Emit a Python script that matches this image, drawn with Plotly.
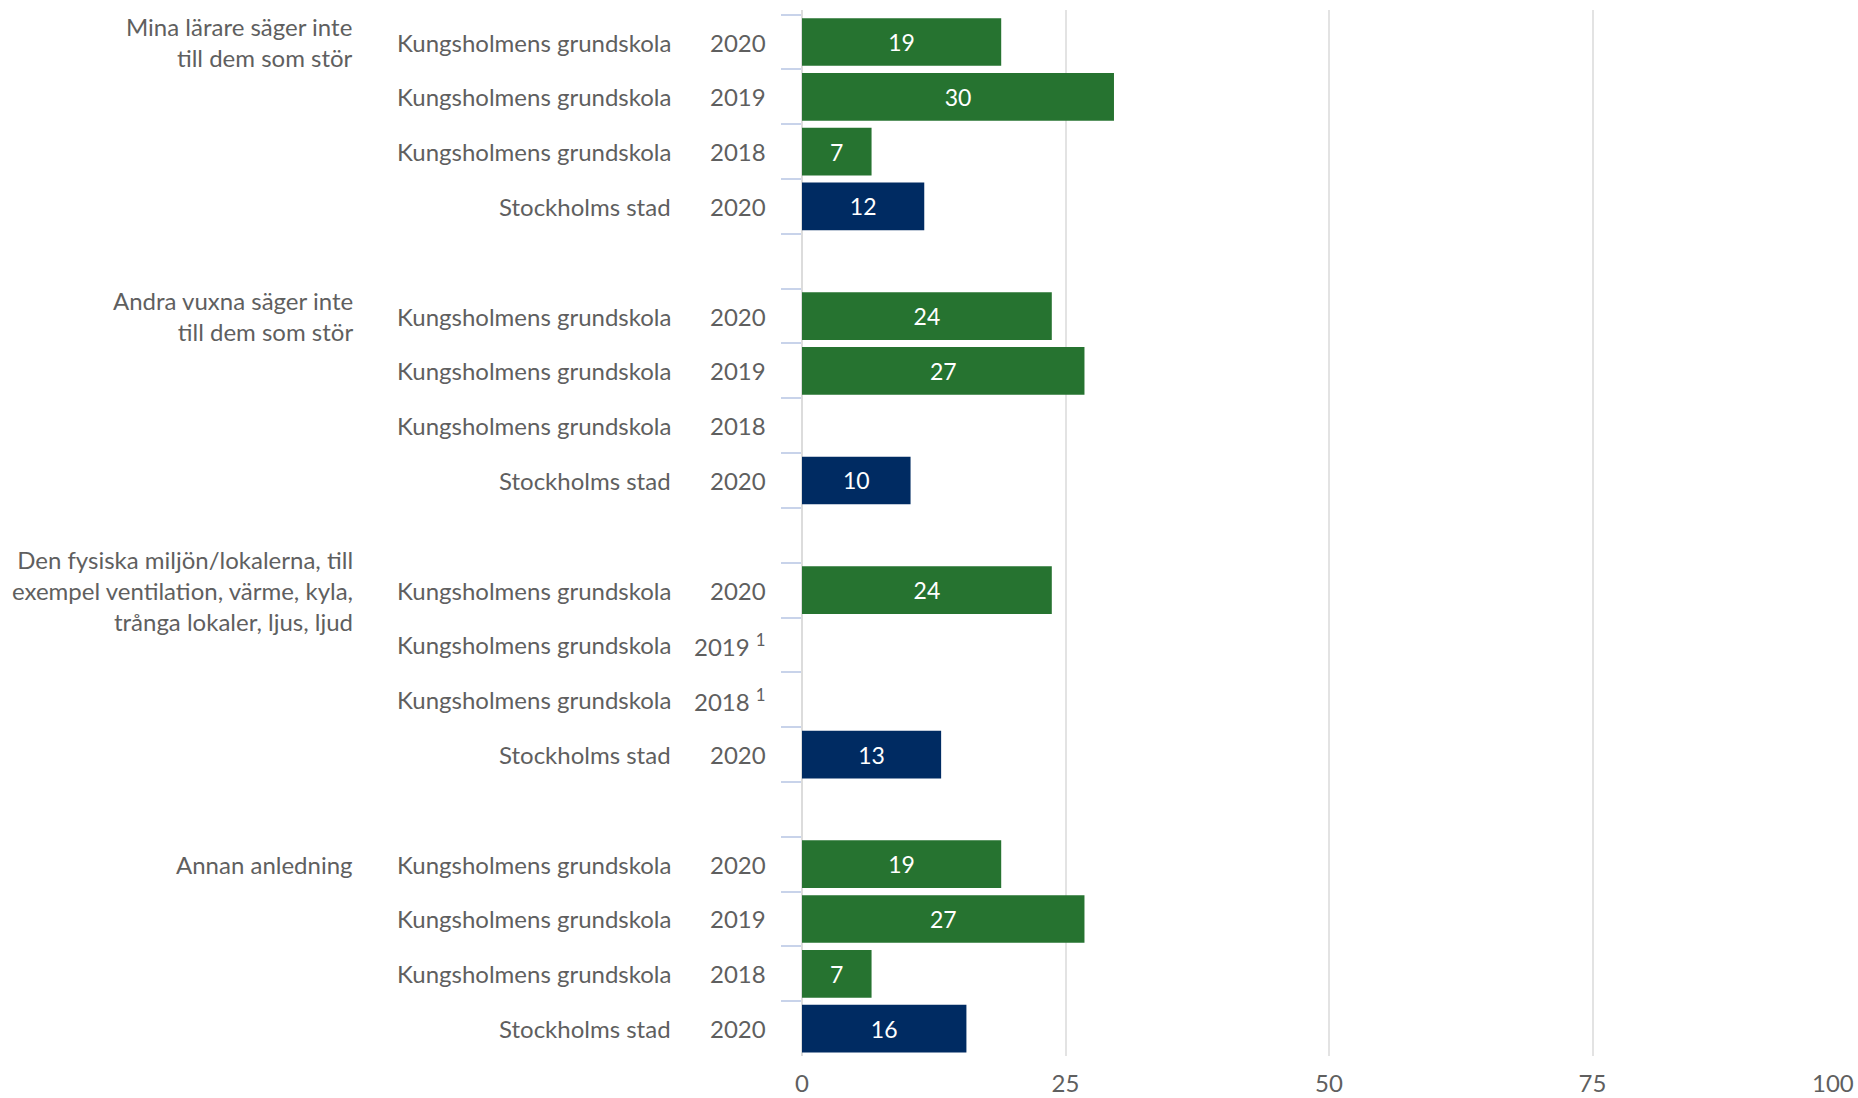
import plotly.graph_objects as go

# ---- data ----
groups = [
    "Mina lärare säger inte<br>till dem som stör",
    "Andra vuxna säger inte<br>till dem som stör",
    "Den fysiska miljön/lokalerna, till<br>exempel ventilation, värme, kyla,<br>trånga lokaler, ljus, ljud",
    "Annan anledning",
]
entities = ["Kungsholmens grundskola", "Kungsholmens grundskola",
            "Kungsholmens grundskola", "Stockholms stad"]
years = [
    ["2020", "2019", "2018", "2020"],
    ["2020", "2019", "2018", "2020"],
    ["2020", "2019 <sup>1</sup>", "2018 <sup>1</sup>", "2020"],
    ["2020", "2019", "2018", "2020"],
]
values = [
    [18.9, 29.6, 6.6, 11.6],
    [23.7, 26.8, None, 10.3],
    [23.7, None, None, 13.2],
    [18.9, 26.8, 6.6, 15.6],
]
x_ticks = [0, 25, 50, 75, 100]

GREEN = "#267330"
NAVY = "#002b62"
TEXT = "#5f5f5f"
FONT = "Lato"
FS = 24

# ---- build categories ----
cats, xs, colors, texts = [], [], [], []
for gi in range(len(groups)):
    for ri in range(4):
        cats.append(f"g{gi}r{ri}")
        v = values[gi][ri]
        xs.append(v)
        colors.append(NAVY if ri == 3 else GREEN)
        texts.append("" if v is None else f"{v:.0f}")
    if gi < len(groups) - 1:
        cats.append(f"gap{gi}")
        xs.append(None)
        colors.append(GREEN)
        texts.append("")

fig = go.Figure()
fig.add_trace(go.Bar(
    y=cats, x=xs, orientation="h",
    marker=dict(color=colors, line=dict(width=0)),
    text=texts, textposition="inside", insidetextanchor="middle",
    textfont=dict(color="white", size=23, family=FONT),
    hoverinfo="skip",
))

W, H = 1858, 1098
ML, MR, MT, MB = 802, 2, 10, 42
pw = W - ML - MR


def px(xp):
    return (xp - ML) / pw


ann = []
for gi in range(len(groups)):
    first = f"g{gi}r0"
    ann.append(dict(x=px(355), xref="paper", y=first, yref="y", text=groups[gi],
                    xanchor="right", yanchor="middle", align="right", showarrow=False,
                    font=dict(size=FS, color=TEXT, family=FONT)))
    for ri in range(4):
        c = f"g{gi}r{ri}"
        ann.append(dict(x=px(673), xref="paper", y=c, yref="y", text=entities[ri],
                        xanchor="right", yanchor="middle", showarrow=False,
                        font=dict(size=FS, color=TEXT, family=FONT)))
        ann.append(dict(x=px(768), xref="paper", y=c, yref="y", text=years[gi][ri],
                        xanchor="right", yanchor="middle", showarrow=False,
                        font=dict(size=FS, color=TEXT, family=FONT)))

# last x tick label placed flush with the right edge so it is not clipped
ann.append(dict(x=1, xref="paper", y=0, yref="paper", text=str(x_ticks[-1]),
                xanchor="right", yanchor="top", yshift=-10, showarrow=False,
                font=dict(size=FS, color=TEXT, family=FONT)))

fig.update_layout(
    width=W, height=H,
    margin=dict(l=ML, r=MR, t=MT, b=MB),
    plot_bgcolor="white", paper_bgcolor="white",
    showlegend=False, bargap=0.13,
    annotations=ann,
    font=dict(family=FONT, color=TEXT, size=FS),
)
fig.update_xaxes(range=[0, 100], tickvals=x_ticks,
                 ticktext=[str(t) for t in x_ticks[:-1]] + [""],
                 showgrid=True, gridcolor="#e3e3e3", gridwidth=2,
                 zeroline=True, zerolinecolor="#dcdcdc", zerolinewidth=2,
                 showline=False, ticks="", ticklabelstandoff=11, automargin=False,
                 tickfont=dict(size=FS, color=TEXT, family=FONT), fixedrange=True)
fig.update_yaxes(type="category", categoryorder="array", categoryarray=cats,
                 autorange="reversed", showticklabels=False, automargin=False,
                 ticks="outside", ticklen=20, tickwidth=2, tickcolor="#c8d3ea",
                 tickson="boundaries", showgrid=False, zeroline=False, showline=False,
                 fixedrange=True)

fig.write_html("out.html", config={"displayModeBar": False},
               post_script="document.body.style.margin='0';document.body.style.overflow='hidden';")
